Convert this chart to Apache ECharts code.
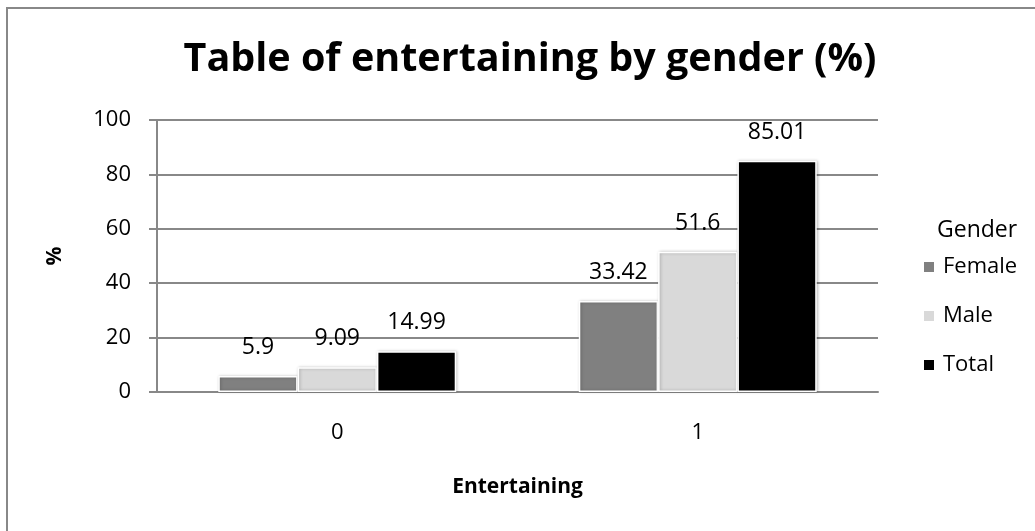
<!DOCTYPE html>
<html>
<head>
<meta charset="utf-8">
<script src="https://cdn.jsdelivr.net/npm/echarts@6/dist/echarts.min.js"></script>
<style>
html,body{margin:0;padding:0;background:#fff;}
#c{width:1035px;height:531px;}
</style>
</head>
<body>
<div id="c"></div>
<script>
var categories = ['0', '1'];
var seriesNames = ['Female', 'Male', 'Total'];
var female = [5.9, 33.42];
var male = [9.09, 51.6];
var total = [14.99, 85.01];
var yTicks = [0, 20, 40, 60, 80, 100];

var colors = ['#808080', '#d9d9d9', '#000000'];
var values = [female, male, total];
var FONT = 'Open Sans';

var chart = echarts.init(document.getElementById('c'), null, {renderer: 'canvas'});

var series = seriesNames.map(function (name, i) {
  return {
    name: name,
    type: 'bar',
    data: values[i],
    barGap: '0%',
    barCategoryGap: '34%',
    itemStyle: {
      color: colors[i],
      borderColor: '#ffffff',
      borderWidth: 1.5,
      shadowColor: 'rgba(0,0,0,0.25)',
      shadowBlur: 3,
      shadowOffsetX: 1,
      shadowOffsetY: 0
    },
    label: {
      show: true,
      position: 'top',
      distance: 17,
      color: '#000',
      fontFamily: FONT,
      fontSize: 23
    }
  };
});

chart.setOption({
  animation: false,
  backgroundColor: '#fff',
  color: colors,
  title: [{
    text: 'Table of entertaining by gender (%)',
    left: 525,
    textAlign: 'center',
    top: 35,
    textStyle: {fontFamily: FONT, fontWeight: 'bold', fontSize: 39.5, color: '#000'}
  }, {
    text: 'Gender',
    left: 932,
    top: 214,
    textStyle: {fontFamily: FONT, fontWeight: 'normal', fontSize: 23, color: '#000'}
  }],
  legend: {
    orient: 'vertical',
    left: 917,
    top: 250,
    itemWidth: 12,
    itemHeight: 12,
    itemGap: 25,
    icon: 'rect',
    data: seriesNames,
    textStyle: {fontFamily: FONT, fontSize: 22, color: '#000', lineHeight: 24, padding: [0, 0, 0, 3]}
  },
  grid: {left: 157, right: 157, top: 120, bottom: 139},
  xAxis: {
    type: 'category',
    data: categories,
    name: 'Entertaining',
    nameLocation: 'middle',
    nameGap: 85,
    nameTextStyle: {fontFamily: FONT, fontWeight: 'bold', fontSize: 21, color: '#000'},
    axisLine: {lineStyle: {color: '#888', width: 2}},
    axisTick: {show: false},
    axisLabel: {margin: 30, fontFamily: FONT, fontSize: 22, color: '#000'}
  },
  yAxis: {
    type: 'value',
    min: yTicks[0],
    max: yTicks[yTicks.length - 1],
    interval: yTicks[1] - yTicks[0],
    name: '%',
    nameLocation: 'middle',
    nameGap: 91,
    nameRotate: 90,
    nameTextStyle: {fontFamily: FONT, fontWeight: 'bold', fontSize: 21, color: '#000'},
    axisLine: {show: true, lineStyle: {color: '#888', width: 2}},
    axisTick: {show: true, inside: false, length: 8, lineStyle: {color: '#888', width: 2}},
    axisLabel: {margin: 26, fontFamily: FONT, fontSize: 22, color: '#000'},
    splitLine: {show: true, lineStyle: {color: '#888', width: 2}}
  },
  graphic: [{
    type: 'rect',
    shape: {x: 7, y: 8, width: 1200, height: 800},
    style: {fill: null, stroke: '#888', lineWidth: 2},
    silent: true,
    z: 100
  }],
  series: series
});
</script>
</body>
</html>
